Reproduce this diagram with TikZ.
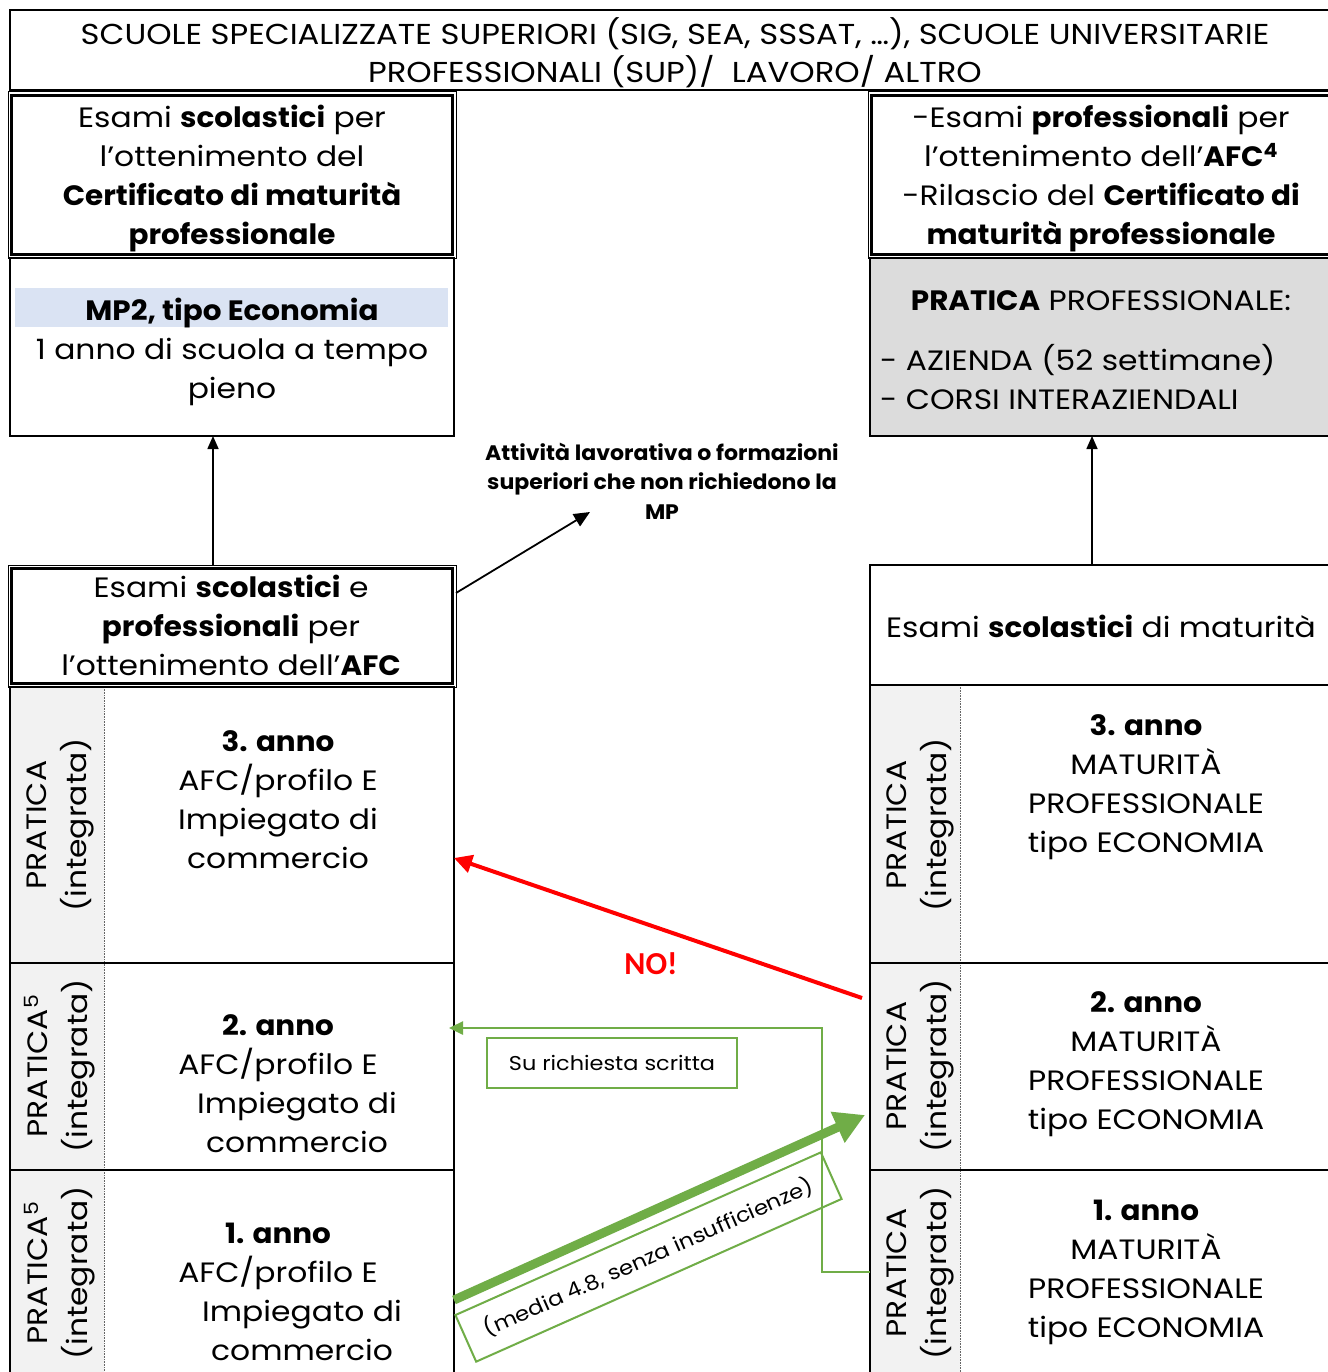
\documentclass[tikz,border=0pt]{standalone}
\usepackage{fontspec}
\setmainfont{Poppins}[UprightFeatures={FakeStretch=1.12}, BoldFeatures={FakeStretch=1.05}]
\newfontfamily\calfont{Carlito}
\usetikzlibrary{arrows.meta}
\definecolor{gGreen}{HTML}{70AD47}
\definecolor{rRed}{HTML}{FF0000}
\definecolor{stripGray}{HTML}{F2F2F2}
\definecolor{boxGray}{HTML}{DCDCDC}
\definecolor{bandBlue}{HTML}{DAE3F3}
\begin{document}
\begin{tikzpicture}[x=1pt,y=-1pt,
  box/.style={draw, line width=1.5pt, inner sep=0pt, outer sep=0pt},
  outerbox/.style={draw, line width=1pt, inner sep=0pt, outer sep=0pt},
  innerbox/.style={draw, line width=3pt, inner sep=0pt, outer sep=0pt},
  strip/.style={fill=stripGray, inner sep=0pt, outer sep=0pt},
  txt/.style={align=center, inner sep=0pt, font=\fontsize{28}{39}\selectfont},
  rottxt/.style={rotate=90, align=center, inner sep=0pt, font=\fontsize{28}{40}\selectfont},
  note/.style={align=center, inner sep=0pt, font=\bfseries\fontsize{21}{29.5}\selectfont},
  blackarrow/.style={line width=1.6pt, -{Triangle[length=13pt,width=11pt]}},
  greenthin/.style={draw=gGreen, line width=2.5pt},
]
\useasboundingbox (0,0) rectangle (1327,1372);
\fill[white] (0,0) rectangle (1327,1372);

% header
\node[box, minimum width=1325, minimum height=80] (hdr) at (672.5,50) {};
\node[txt, font=\fontsize{28.8}{38}\selectfont] (hdrt) at (675,52.5)
  {SCUOLE SPECIALIZZATE SUPERIORI (SIG, SEA, SSSAT, …), SCUOLE UNIVERSITARIE\\PROFESSIONALI (SUP)/\ \ LAVORO/ ALTRO};

% ---------- left column ----------
\node[outerbox, minimum width=448, minimum height=166] (tl) at (232,175) {};
\node[innerbox, minimum width=441, minimum height=159] (tlin) at (232,175) {};
\node[txt] (tlt) at (232,179)
  {Esami \textbf{scolastici} per\\l’ottenimento del\\\textbf{Certificato di maturità}\\\textbf{professionale}};

\node[box, minimum width=444, minimum height=178] (mp2) at (232,347) {};
\node[fill=bandBlue, inner sep=0pt, minimum width=433, minimum height=39] (band) at (231.5,307.5) {};
\node[txt] (mp2t) at (232,352)
  {\textbf{MP2, tipo Economia}\\1 anno di scuola a tempo\\pieno};

\node[outerbox, minimum width=448, minimum height=122] (afcL) at (232,626) {};
\node[innerbox, minimum width=441, minimum height=115] (afcLin) at (232,626) {};
\node[txt] (afcLt) at (231,625.5)
  {Esami \textbf{scolastici} e\\\textbf{professionali} per\\l’ottenimento dell’\textbf{AFC}};

% left rows
\node[strip, minimum width=94, minimum height=276] (L3s) at (57,825) {};
\node[strip, minimum width=94, minimum height=207] (L2s) at (57,1066.5) {};
\node[strip, minimum width=94, minimum height=210] (L1s) at (57,1275) {};
\draw[densely dotted, line width=0.6pt, black!60] (104,687) -- (104,1372);
\node[box, minimum width=444, minimum height=276] (L3) at (232,825) {};
\node[box, minimum width=444, minimum height=207] (L2) at (232,1066.5) {};
\node[box, minimum width=444, minimum height=210] (L1) at (232,1275) {};

\node[rottxt] (L3p) at (60,825) {PRATICA\\(integrata)};
\node[rottxt] (L2p) at (60,1066) {PRATICA\textsuperscript{5}\\(integrata)};
\node[rottxt] (L1p) at (60,1273) {PRATICA\textsuperscript{5}\\(integrata)};

\node[txt] (L3t) at (278,800) {\textbf{3. anno}\\AFC/profilo E\\Impiegato di\\commercio};
\node[txt] (L2t) at (278,1084) {\textbf{2. anno}\\AFC/profilo E\\\hspace*{38pt}Impiegato di\\\hspace*{38pt}commercio};
\node[txt] (L1t) at (278,1291.5) {\textbf{1. anno}\\AFC/profilo E\\\hspace*{48pt}Impiegato di\\\hspace*{48pt}commercio};

% ---------- right column ----------
\node[outerbox, minimum width=469, minimum height=166] (tr) at (1102.5,175) {};
\node[innerbox, minimum width=462, minimum height=159] (trin) at (1102.5,175) {};
\node[txt] (trt) at (1101,179)
  {-Esami \textbf{professionali} per\\l’ottenimento dell’\textbf{AFC\textsuperscript{4}}\\-Rilascio del \textbf{Certificato di}\\\textbf{maturità professionale}};

\node[box, fill=boxGray, minimum width=465, minimum height=178] (prat) at (1102.5,347) {};
\node[txt] (pratt) at (1101,301) {\textbf{PRATICA} PROFESSIONALE:};
\node[txt, align=left, anchor=west] (pratl) at (880,377) {- AZIENDA (52 settimane)\\- CORSI INTERAZIENDALI};

\node[box, minimum width=465, minimum height=120] (esR) at (1102.5,625) {};
\node[txt] (esRt) at (1101,626) {Esami \textbf{scolastici} di maturità};

\node[strip, minimum width=90, minimum height=278] (R3s) at (915,824) {};
\node[strip, minimum width=90, minimum height=207] (R2s) at (915,1066.5) {};
\node[strip, minimum width=90, minimum height=210] (R1s) at (915,1275) {};
\draw[densely dotted, line width=0.6pt, black!60] (960,685) -- (960,1372);
\node[box, minimum width=465, minimum height=278] (R3) at (1102.5,824) {};
\node[box, minimum width=465, minimum height=207] (R2) at (1102.5,1066.5) {};
\node[box, minimum width=465, minimum height=210] (R1) at (1102.5,1275) {};

\node[rottxt] (R3p) at (920,825) {PRATICA\\(integrata)};
\node[rottxt] (R2p) at (920,1066) {PRATICA\\(integrata)};
\node[rottxt] (R1p) at (920,1273) {PRATICA\\(integrata)};

\node[txt] (R3t) at (1146,787) {\textbf{3. anno}\\MATURITÀ\\PROFESSIONALE\\tipo ECONOMIA};
\node[txt] (R2t) at (1146,1064.5) {\textbf{2. anno}\\MATURITÀ\\PROFESSIONALE\\tipo ECONOMIA};
\node[txt] (R1t) at (1146,1272) {\textbf{1. anno}\\MATURITÀ\\PROFESSIONALE\\tipo ECONOMIA};

% ---------- middle ----------
\node[note] (mpnote) at (662,481) {Attività lavorativa o formazioni\\superiori che non richiedono la\\MP};
\coordinate (mpend) at (590,512);
\node[text=rRed, inner sep=0pt, font=\calfont\bfseries\fontsize{32}{34}\selectfont] (no) at (651,964) {NO!};
\coordinate (redS) at (862,998);
\coordinate (elbow) at (822,1028);
\coordinate (thickEnd) at (865,1115);

\node[draw=gGreen, line width=2pt, minimum width=250, minimum height=50, inner sep=0pt,
      font=\fontsize{20}{25}\selectfont] (req) at (612,1063) {Su richiesta scritta};
\node[draw=gGreen, line width=2pt, minimum width=400, minimum height=51, inner sep=0pt,
      rotate=24, font=\fontsize{20.4}{25}\selectfont] (media) at (648.5,1257) {(media 4.8, senza insufficienze)};

% ---------- connectors ----------
\draw[blackarrow] ([xshift=-19pt]afcL.north) -- ([xshift=-19pt]mp2.south);
\draw[blackarrow] ([xshift=-10.5pt]esR.north) -- ([xshift=-10.5pt]prat.south);
\draw[line width=1.8pt, -{Triangle[length=16pt,width=14pt]}] ([yshift=33pt]afcL.east) -- (mpend);
\draw[draw=rRed, line width=4pt, -{Triangle[length=18pt,width=18pt]}] (redS) -- ([yshift=-33pt]L3.east);
\draw[greenthin, -{Triangle[length=14pt,width=13pt]}] ([yshift=3pt]R1.west) -| (elbow) -- ([xshift=-5pt]L2.east |- elbow);
\draw[draw=gGreen, line width=9pt, -{Triangle[length=30pt,width=32pt]}] ([yshift=-25pt]L1.east) -- (thickEnd);
\end{tikzpicture}
\end{document}
